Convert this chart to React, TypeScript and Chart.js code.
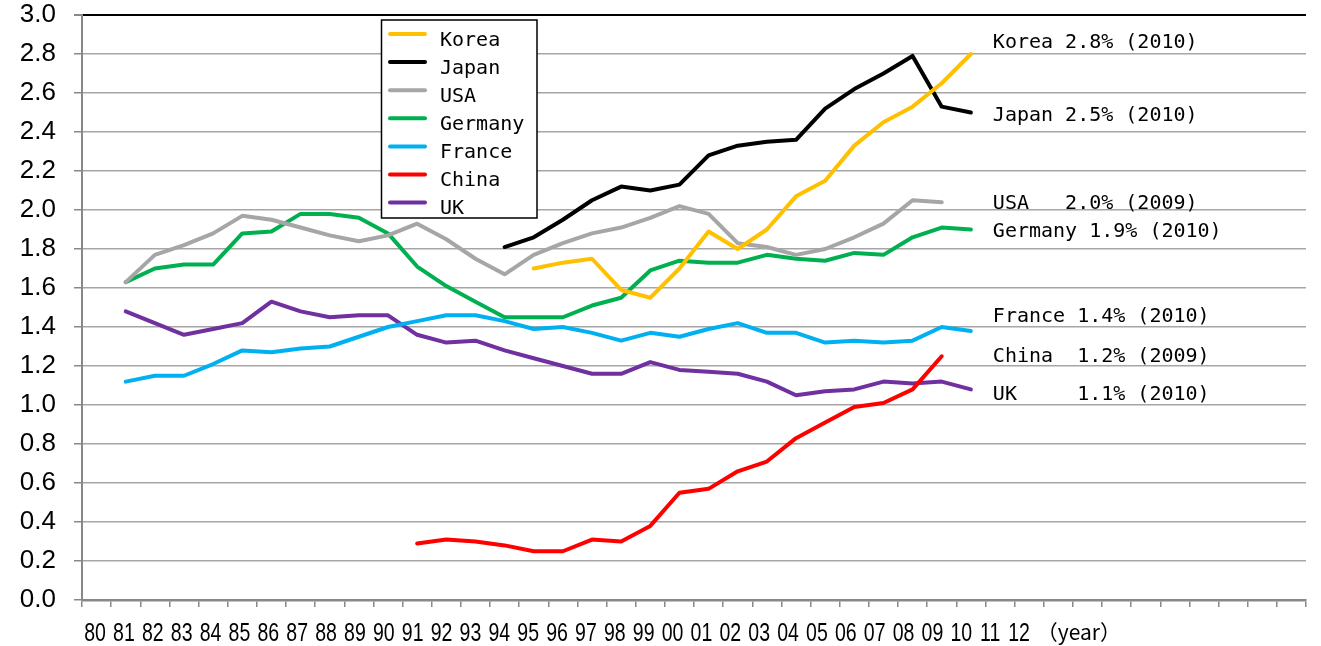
import { useEffect, useRef } from 'react';
import { Chart, registerables } from 'chart.js';

Chart.register(...registerables);

const yearLabels = [
  '80', '81', '82', '83', '84', '85', '86', '87', '88', '89',
  '90', '91', '92', '93', '94', '95', '96', '97', '98', '99',
  '00', '01', '02', '03', '04', '05', '06', '07', '08', '09',
  '10', '11', '12', '', '', '', '', '', '', '', '', '',
];

const korea = [
  null, null, null, null, null, null, null, null, null, null,
  null, null, null, null, null, 1.70, 1.73, 1.75, 1.59, 1.55,
  1.70, 1.89, 1.80, 1.90, 2.07, 2.15, 2.33, 2.45, 2.53, 2.65,
  2.80,
];
const japan = [
  null, null, null, null, null, null, null, null, null, null,
  null, null, null, null, 1.81, 1.86, 1.95, 2.05, 2.12, 2.10,
  2.13, 2.28, 2.33, 2.35, 2.36, 2.52, 2.62, 2.70, 2.79, 2.53,
  2.50,
];
const usa = [
  null, 1.63, 1.77, 1.82, 1.88, 1.97, 1.95, 1.91, 1.87, 1.84,
  1.87, 1.93, 1.85, 1.75, 1.67, 1.77, 1.83, 1.88, 1.91, 1.96,
  2.02, 1.98, 1.83, 1.81, 1.77, 1.80, 1.86, 1.93, 2.05, 2.04,
];
const germany = [
  null, 1.63, 1.70, 1.72, 1.72, 1.88, 1.89, 1.98, 1.98, 1.96,
  1.88, 1.71, 1.61, 1.53, 1.45, 1.45, 1.45, 1.51, 1.55, 1.69,
  1.74, 1.73, 1.73, 1.77, 1.75, 1.74, 1.78, 1.77, 1.86, 1.91,
  1.90,
];
const france = [
  null, 1.12, 1.15, 1.15, 1.21, 1.28, 1.27, 1.29, 1.30, 1.35,
  1.40, 1.43, 1.46, 1.46, 1.43, 1.39, 1.40, 1.37, 1.33, 1.37,
  1.35, 1.39, 1.42, 1.37, 1.37, 1.32, 1.33, 1.32, 1.33, 1.40,
  1.38,
];
const china = [
  null, null, null, null, null, null, null, null, null, null,
  null, 0.29, 0.31, 0.30, 0.28, 0.25, 0.25, 0.31, 0.30, 0.38,
  0.55, 0.57, 0.66, 0.71, 0.83, 0.91, 0.99, 1.01, 1.08, 1.25,
];
const uk = [
  null, 1.48, 1.42, 1.36, 1.39, 1.42, 1.53, 1.48, 1.45, 1.46,
  1.46, 1.36, 1.32, 1.33, 1.28, 1.24, 1.20, 1.16, 1.16, 1.22,
  1.18, 1.17, 1.16, 1.12, 1.05, 1.07, 1.08, 1.12, 1.11, 1.12,
  1.08,
];

const seriesNames = ['Korea', 'Japan', 'USA', 'Germany', 'France', 'China', 'UK'];
const seriesColors = ['#FFC000', '#000000', '#A6A6A6', '#00B050', '#00B0F0', '#FF0000', '#7030A0'];
const seriesData = [korea, japan, usa, germany, france, china, uk];

const endNotes = [
  'Korea 2.8% (2010)',
  'Japan 2.5% (2010)',
  'USA   2.0% (2009)',
  'Germany 1.9% (2010)',
  'France 1.4% (2010)',
  'China  1.2% (2009)',
  'UK     1.1% (2010)',
];
const endNoteLevels = [2.83, 2.455, 2.007, 1.862, 1.426, 1.221, 1.024];
const yearUnit = '（year）';

const MONO = '"DejaVu Sans Mono", monospace';
const SANS = '"Liberation Sans", Arial, sans-serif';

const overlayPlugin = {
  id: 'overlay',
  afterDraw(chart: any) {
    const ctx = chart.ctx as CanvasRenderingContext2D;
    const xs = chart.scales.x;
    const ys = chart.scales.y;
    const area = chart.chartArea;
    ctx.save();

    // x tick labels (condensed)
    ctx.fillStyle = '#000';
    ctx.font = `26px ${SANS}`;
    ctx.textAlign = 'center';
    ctx.textBaseline = 'alphabetic';
    const labels = chart.data.labels as string[];
    labels.forEach((lab, i) => {
      if (!lab) return;
      ctx.save();
      ctx.translate(xs.getPixelForTick(i) - 1.5 - 0.27 * i, area.bottom + 40.5);
      ctx.scale(0.75, 1);
      ctx.fillText(lab, 0, 0);
      ctx.restore();
    });

    // legend box
    const bx = 381.5, by = 20, bw = 155.5, bh = 198;
    ctx.fillStyle = '#fff';
    ctx.fillRect(bx, by, bw, bh);
    ctx.strokeStyle = '#000';
    ctx.lineWidth = 1.5;
    ctx.strokeRect(bx, by, bw, bh);
    ctx.font = `20px ${MONO}`;
    ctx.textBaseline = 'alphabetic';
    ctx.textAlign = 'left';
    chart.data.datasets.forEach((ds: any, i: number) => {
      const cy = 34 + i * 28.1;
      ctx.strokeStyle = ds.borderColor;
      ctx.lineWidth = 4;
      ctx.lineCap = 'round';
      ctx.beginPath();
      ctx.moveTo(390, cy);
      ctx.lineTo(425, cy);
      ctx.stroke();
      ctx.fillStyle = '#000';
      ctx.fillText(ds.label, 440, cy + 11.5);
    });

    // end notes
    ctx.font = `20px ${MONO}`;
    ctx.fillStyle = '#000';
    const nx = xs.getPixelForValue(30) + 22;
    endNotes.forEach((t, i) => {
      ctx.fillText(t, nx, ys.getPixelForValue(endNoteLevels[i]));
    });

    // year unit
    ctx.font = `21px "Noto Sans CJK JP", ${MONO}`;
    ctx.fillText(yearUnit, xs.getPixelForValue(33) - 21.5, area.bottom + 39.5);
    ctx.restore();
  },
};

export default function App() {
  const ref = useRef<HTMLCanvasElement>(null);
  useEffect(() => {
    const canvas = ref.current!;
    const chart = new Chart(canvas, {
      type: 'line',
      data: {
        labels: yearLabels,
        datasets: seriesNames.map((n, i) => ({
          label: n,
          data: seriesData[i],
          borderColor: seriesColors[i],
          backgroundColor: seriesColors[i],
        })),
      },
      options: {
        animation: false,
        responsive: false,
        devicePixelRatio: 1,
        layout: { padding: { top: 15, right: 15, left: 0, bottom: 0 } },
        plugins: { legend: { display: false }, tooltip: { enabled: false } },
        elements: {
          point: { radius: 0 },
          line: { tension: 0, borderWidth: 4, borderCapStyle: 'round', borderJoinStyle: 'round' },
        },
        scales: {
          x: {
            type: 'category',
            offset: true,
            grid: { offset: true, drawOnChartArea: false, drawTicks: true, tickLength: 7, color: '#888', lineWidth: 1.5 },
            border: { color: '#888', width: 2.5 },
            ticks: { display: false, autoSkip: false, maxRotation: 0, minRotation: 0 },
            afterFit: (s: any) => { s.height = 46; s.paddingLeft = 0; s.paddingRight = 0; },
          },
          y: {
            min: 0,
            max: 3,
            ticks: {
              stepSize: 0.2,
              padding: 18,
              color: '#000',
              font: { size: 26, family: SANS },
              callback: (v: any) => Number(v).toFixed(1),
            },
            grid: {
              color: (c: any) => (c.tick && Math.abs(c.tick.value - 3) < 1e-6 ? '#000' : '#A6A6A6'),
              lineWidth: (c: any) => (c.tick && Math.abs(c.tick.value - 3) < 1e-6 ? 2 : 1.5),
              tickColor: '#888',
              tickLength: 8,
            },
            border: { color: '#888', width: 2 },
            afterFit: (s: any) => { s.width = 82; s.paddingTop = 0; s.paddingBottom = 0; },
          },
        },
      },
      plugins: [overlayPlugin],
    } as any);
    return () => chart.destroy();
  }, []);
  return (
    <div style={{ position: 'absolute', left: 0, top: 0, width: 1321, height: 646, background: '#fff' }}>
      <canvas ref={ref} width={1321} height={646} style={{ display: 'block' }} />
    </div>
  );
}
